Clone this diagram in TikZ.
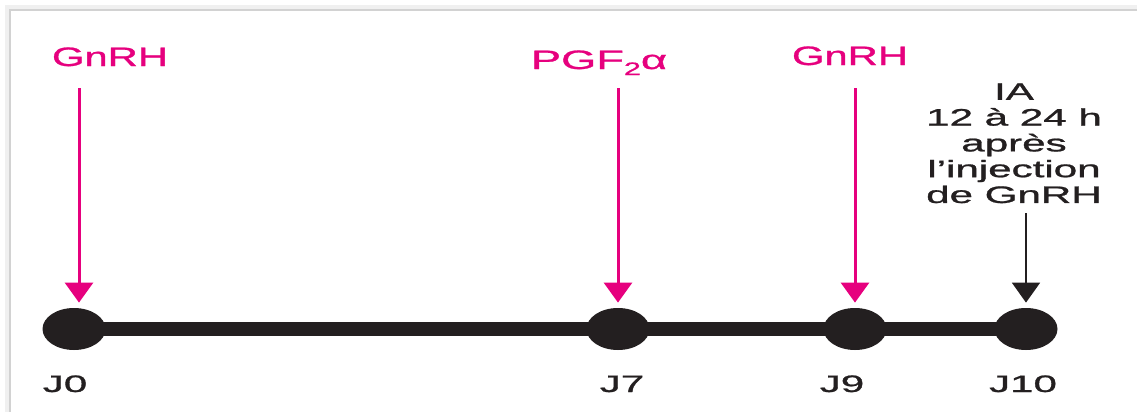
\documentclass[tikz,border=0pt]{standalone}
\usepackage{fontspec}
\setmainfont{Liberation Sans}[FakeBold=0.9]
\usepackage{graphicx}
\usetikzlibrary{arrows.meta,shapes.geometric,backgrounds}
\definecolor{hormone}{RGB}{230,0,126}
\definecolor{ink}{RGB}{35,31,32}
% horizontally widened text
\newcommand{\stretchtext}[2][1.77]{\scalebox{#1}[1]{#2}}
\begin{document}
\begin{tikzpicture}[x=0.5pt,y=-0.5pt,
  day/.style={ellipse, fill=ink, inner sep=0pt, minimum width=31.5pt, minimum height=21pt},
  daylabel/.style={anchor=base, inner sep=0pt, text=ink, font=\fontsize{11.9pt}{14pt}\selectfont},
  hormonelabel/.style={anchor=base, inner sep=0pt, text=hormone, font=\fontsize{13.3pt}{16pt}\selectfont},
  ialabel/.style={anchor=north, inner sep=0pt, align=center, text=ink, font=\fontsize{11.9pt}{12.9pt}\selectfont},
  hormonearrow/.style={draw=hormone, line width=1.5pt, -{Triangle[width=14pt,length=10pt]}, shorten >=2.5pt},
  iaarrow/.style={draw=ink, line width=1pt, -{Triangle[width=14pt,length=10pt]}, shorten >=2.5pt},
]
\useasboundingbox (0,0) rectangle (1137,412);

% days on the time line
\node[day] (e0) at (74,329) {};
\node[day] (e7) at (618,329) {};
\node[day] (e9) at (855,329) {};
\node[day] (e10) at (1026,329) {};
\begin{pgfonlayer}{background}
  \fill[white] (0,0) rectangle (1137,412);
  % panel edge shadow
  \draw[gray!12, line width=2pt] (7,412) -- (7,7) -- (1137,7);
  \draw[gray!35, line width=1pt] (9.5,412) -- (9.5,9.5) -- (1137,9.5);
  \draw[ink, line width=7pt] (e0.center) -- (e10.center);
\end{pgfonlayer}

\node[daylabel] (l0) at (65,392) {\stretchtext{J0}};
\node[daylabel] (l7) at (622,392) {\stretchtext{J7}};
\node[daylabel] (l9) at (842,392) {\stretchtext{J9}};
\node[daylabel] (l10) at (1023,392) {\stretchtext{J10}};

% treatments
\node[hormonelabel] (h0) at (110,66) {\stretchtext[1.57]{GnRH}};
\node[hormonelabel] (h7) at (599,69) {\stretchtext[1.7]{PGF\raisebox{-3pt}{\fontsize{9pt}{10pt}\selectfont 2}α}};
\node[hormonelabel] (h9) at (850,65) {\stretchtext[1.57]{GnRH}};
\node[ialabel] (ia) at (1014,83) {\stretchtext{IA}\\\stretchtext{12 à 24 h}\\\stretchtext{après}\\\stretchtext{l’injection}\\\stretchtext{de GnRH}};

\coordinate (s0) at (79,88);
\coordinate (s7) at (618,88);
\coordinate (s9) at (855,88);
\coordinate (s10) at (1026,213);
\draw[hormonearrow] (s0) -- (s0 |- e0.north);
\draw[hormonearrow] (s7) -- (e7.north);
\draw[hormonearrow] (s9) -- (e9.north);
\draw[iaarrow] (s10) -- (e10.north);
\end{tikzpicture}
\end{document}
